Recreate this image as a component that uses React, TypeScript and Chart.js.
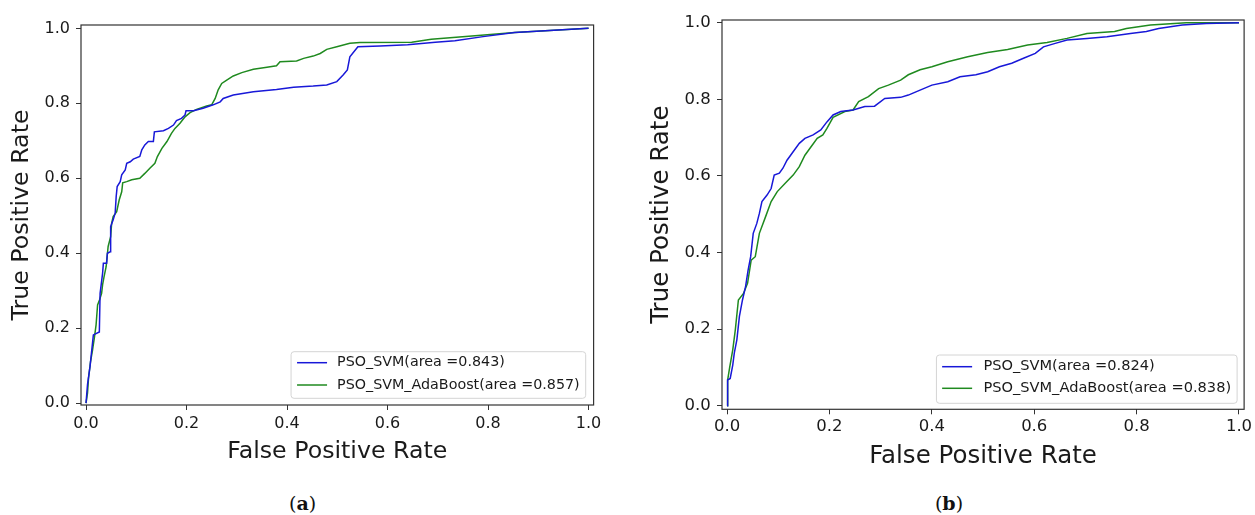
import React, { useEffect, useRef } from "react";
import { Chart, registerables } from "chart.js";

Chart.register(...registerables);

// ---------- data ----------
const TICKS = [0, 0.2, 0.4, 0.6, 0.8, 1.0];
const X_TITLE = "False Positive Rate";
const Y_TITLE = "True Positive Rate";
const SERIES_NAMES = ["PSO_SVM", "PSO_SVM_AdaBoost"];
const AUC_A = [0.843, 0.857];
const AUC_B = [0.824, 0.838];
const CAPTIONS = ["a", "b"];

// panel (a)
const A_SVM_FPR = [0, 0.003, 0.008, 0.0146, 0.0265, 0.028, 0.033, 0.0345, 0.041, 0.0425, 0.048, 0.049, 0.054, 0.058, 0.06, 0.062, 0.068, 0.071, 0.078, 0.081, 0.088, 0.094, 0.107, 0.111, 0.117, 0.124, 0.134, 0.136, 0.154, 0.164, 0.174, 0.18, 0.19, 0.197, 0.199, 0.214, 0.233, 0.253, 0.267, 0.273, 0.293, 0.333, 0.379, 0.413, 0.452, 0.479, 0.499, 0.512, 0.52, 0.525, 0.541, 0.585, 0.64, 0.695, 0.734, 0.79, 0.853, 0.931, 1.0];
const A_SVM_TPR = [0, 0.05, 0.098, 0.182, 0.19, 0.293, 0.347, 0.373, 0.373, 0.4, 0.404, 0.471, 0.489, 0.507, 0.551, 0.578, 0.591, 0.609, 0.622, 0.64, 0.644, 0.651, 0.658, 0.676, 0.689, 0.698, 0.698, 0.724, 0.727, 0.733, 0.742, 0.754, 0.76, 0.769, 0.78, 0.78, 0.787, 0.796, 0.804, 0.813, 0.822, 0.831, 0.837, 0.843, 0.846, 0.849, 0.858, 0.876, 0.889, 0.924, 0.951, 0.953, 0.956, 0.963, 0.967, 0.978, 0.989, 0.995, 1.0];
const A_ADA_FPR = [0, 0.003, 0.005, 0.009, 0.013, 0.017, 0.02, 0.023, 0.027, 0.031, 0.033, 0.036, 0.04, 0.044, 0.049, 0.051, 0.054, 0.061, 0.066, 0.071, 0.073, 0.081, 0.091, 0.107, 0.117, 0.127, 0.137, 0.142, 0.151, 0.161, 0.17, 0.177, 0.187, 0.197, 0.207, 0.22, 0.24, 0.25, 0.257, 0.263, 0.27, 0.28, 0.293, 0.31, 0.333, 0.36, 0.379, 0.386, 0.419, 0.433, 0.452, 0.466, 0.479, 0.499, 0.525, 0.545, 0.648, 0.687, 0.774, 0.853, 0.931, 1.0];
const A_ADA_TPR = [0, 0.027, 0.067, 0.111, 0.142, 0.178, 0.209, 0.262, 0.276, 0.293, 0.316, 0.338, 0.364, 0.418, 0.444, 0.48, 0.498, 0.511, 0.542, 0.564, 0.588, 0.591, 0.596, 0.6, 0.613, 0.627, 0.64, 0.658, 0.68, 0.698, 0.72, 0.733, 0.747, 0.764, 0.775, 0.784, 0.793, 0.796, 0.813, 0.836, 0.853, 0.862, 0.873, 0.882, 0.891, 0.896, 0.9, 0.911, 0.913, 0.92, 0.926, 0.933, 0.944, 0.951, 0.96, 0.962, 0.963, 0.971, 0.98, 0.989, 0.995, 1.0];

// panel (b)
const B_SVM_FPR = [0, 0.001, 0.006, 0.011, 0.014, 0.019, 0.024, 0.03, 0.036, 0.041, 0.046, 0.051, 0.058, 0.063, 0.068, 0.078, 0.086, 0.092, 0.102, 0.109, 0.117, 0.129, 0.141, 0.152, 0.168, 0.183, 0.195, 0.207, 0.222, 0.246, 0.269, 0.288, 0.308, 0.339, 0.354, 0.37, 0.4, 0.431, 0.455, 0.486, 0.509, 0.532, 0.556, 0.579, 0.602, 0.618, 0.641, 0.664, 0.703, 0.742, 0.788, 0.819, 0.843, 0.889, 0.936, 1.0];
const B_SVM_TPR = [0, 0.067, 0.071, 0.106, 0.137, 0.172, 0.233, 0.276, 0.311, 0.354, 0.389, 0.45, 0.476, 0.502, 0.533, 0.55, 0.567, 0.602, 0.607, 0.62, 0.641, 0.663, 0.685, 0.698, 0.707, 0.72, 0.741, 0.759, 0.768, 0.772, 0.781, 0.782, 0.802, 0.805, 0.811, 0.82, 0.837, 0.846, 0.859, 0.864, 0.872, 0.885, 0.894, 0.907, 0.92, 0.937, 0.946, 0.955, 0.959, 0.963, 0.972, 0.977, 0.985, 0.994, 0.998, 1.0];
const B_ADA_FPR = [0, 0.001, 0.005, 0.011, 0.016, 0.022, 0.032, 0.04, 0.047, 0.055, 0.063, 0.075, 0.086, 0.098, 0.113, 0.129, 0.141, 0.152, 0.164, 0.176, 0.187, 0.195, 0.207, 0.23, 0.246, 0.257, 0.276, 0.296, 0.315, 0.339, 0.354, 0.377, 0.4, 0.431, 0.47, 0.509, 0.548, 0.587, 0.625, 0.664, 0.703, 0.757, 0.78, 0.827, 0.897, 1.0];
const B_ADA_TPR = [0, 0.067, 0.1, 0.146, 0.198, 0.276, 0.293, 0.32, 0.38, 0.389, 0.45, 0.493, 0.533, 0.559, 0.58, 0.602, 0.624, 0.654, 0.676, 0.698, 0.707, 0.724, 0.753, 0.768, 0.772, 0.794, 0.807, 0.828, 0.837, 0.85, 0.864, 0.877, 0.885, 0.898, 0.911, 0.922, 0.93, 0.942, 0.948, 0.959, 0.972, 0.977, 0.985, 0.994, 1.0, 1.0];

// ---------- styling ----------
const BLUE = "#1818d8";
const GREEN = "#1f8a1f";
const FONT = '"DejaVu Sans", sans-serif';
const TEXT = "#1a1a1a";
const AXIS = "#333333";

const zip = (xs: number[], ys: number[]) => xs.map((x, i) => ({ x, y: ys[i] }));

const framePlugin = {
  id: "frame",
  afterDraw(chart: any) {
    const { ctx, chartArea: ca } = chart;
    ctx.save();
    ctx.strokeStyle = AXIS;
    ctx.lineWidth = 1.2;
    ctx.strokeRect(ca.left, ca.top, ca.right - ca.left, ca.bottom - ca.top);
    ctx.restore();
  },
};

const legendPlugin = {
  id: "rocLegend",
  afterDraw(chart: any, _args: any, o: any) {
    const { ctx, chartArea: ca } = chart;
    ctx.save();
    ctx.font = `${o.fontSize}px ${FONT}`;
    const ds = chart.data.datasets;
    const tw = Math.max(...ds.map((d: any) => ctx.measureText(d.label).width));
    const w = o.padL + o.lineLen + o.gap + tw + o.padR;
    const h = o.height;
    const x0 = ca.right - o.marginR - w;
    const y0 = ca.bottom - o.marginB - h;
    ctx.beginPath();
    (ctx as any).roundRect(x0, y0, w, h, 3);
    ctx.fillStyle = "rgba(255,255,255,0.9)";
    ctx.fill();
    ctx.strokeStyle = "#d4d4d4";
    ctx.lineWidth = 1;
    ctx.stroke();
    ds.forEach((d: any, i: number) => {
      const cy = y0 + o.rows[i];
      ctx.beginPath();
      ctx.moveTo(x0 + o.padL, cy);
      ctx.lineTo(x0 + o.padL + o.lineLen, cy);
      ctx.strokeStyle = d.borderColor;
      ctx.lineWidth = 1.5;
      ctx.stroke();
      ctx.fillStyle = TEXT;
      ctx.textBaseline = "middle";
      ctx.textAlign = "left";
      ctx.fillText(d.label, x0 + o.padL + o.lineLen + o.gap, cy);
    });
    ctx.restore();
  },
};

type Panel = {
  svm: { x: number[]; y: number[] };
  ada: { x: number[]; y: number[] };
  auc: number[];
  width: number;
  height: number;
  padTop: number;
  padRight: number;
  yAxisW: number;
  xAxisH: number;
  yMin: number;
  yMax: number;
  tickFont: number;
  titleFont: number;
  xTickPad: number;
  yTickPad: number;
  xTitlePad: number;
  yTitlePad: number;
  legend: any;
};

const PANEL_A: Panel = {
  svm: { x: A_SVM_FPR, y: A_SVM_TPR },
  ada: { x: A_ADA_FPR, y: A_ADA_TPR },
  auc: AUC_A,
  width: 620,
  height: 480,
  padTop: 25,
  padRight: 26.4,
  yAxisW: 81,
  xAxisH: 75,
  yMin: -0.005,
  yMax: 1.009,
  tickFont: 16,
  titleFont: 23.7,
  xTickPad: 4.6,
  yTickPad: 6,
  xTitlePad: 14.3,
  yTitlePad: 7.8,
  legend: { fontSize: 14.3, padL: 6, lineLen: 30, gap: 10, padR: 6, height: 46.6, marginR: 7.9, marginB: 6.7, rows: [11, 33.3] },
};

const PANEL_B: Panel = {
  svm: { x: B_SVM_FPR, y: B_SVM_TPR },
  ada: { x: B_ADA_FPR, y: B_ADA_TPR },
  auc: AUC_B,
  width: 625,
  height: 480,
  padTop: 20,
  padRight: 8.3,
  yAxisW: 92,
  xAxisH: 70.7,
  yMin: -0.0094,
  yMax: 1.007,
  tickFont: 16.5,
  titleFont: 24.5,
  xTickPad: 2.8,
  yTickPad: 6.3,
  xTitlePad: 8.8,
  yTitlePad: 17.3,
  legend: { fontSize: 14.6, padL: 5.7, lineLen: 30, gap: 11.3, padR: 6, height: 48.3, marginR: 7, marginB: 6, rows: [11.7, 33.3] },
};

function RocChart({ p }: { p: Panel }) {
  const ref = useRef<HTMLCanvasElement | null>(null);
  useEffect(() => {
    if (!ref.current) return;
    const setTicks = (s: any) => {
      s.ticks = TICKS.map((v) => ({ value: v }));
    };
    const tickFmt = (v: any) => Number(v).toFixed(1);
    const grid = {
      display: true,
      drawOnChartArea: false,
      drawTicks: true,
      tickLength: 5,
      tickColor: AXIS,
      color: AXIS,
      lineWidth: 1,
    };
    const chart = new Chart(ref.current, {
      type: "line",
      data: {
        datasets: [
          {
            label: `${SERIES_NAMES[0]}(area =${p.auc[0].toFixed(3)})`,
            data: zip(p.svm.x, p.svm.y),
            borderColor: BLUE,
            backgroundColor: BLUE,
            borderWidth: 1.5,
            pointRadius: 0,
            tension: 0,
            fill: false,
          },
          {
            label: `${SERIES_NAMES[1]}(area =${p.auc[1].toFixed(3)})`,
            data: zip(p.ada.x, p.ada.y),
            borderColor: GREEN,
            backgroundColor: GREEN,
            borderWidth: 1.5,
            pointRadius: 0,
            tension: 0,
            fill: false,
          },
        ],
      },
      options: {
        responsive: false,
        animation: false,
        devicePixelRatio: 1,
        layout: { padding: { left: 0, top: p.padTop, right: p.padRight, bottom: 0 } },
        plugins: {
          legend: { display: false },
          tooltip: { enabled: false },
          rocLegend: p.legend,
        } as any,
        scales: {
          x: {
            type: "linear",
            min: -0.01,
            max: 1.01,
            afterBuildTicks: setTicks,
            afterFit: (s: any) => {
              s.height = p.xAxisH;
            },
            ticks: {
              callback: tickFmt,
              font: { family: FONT, size: p.tickFont },
              color: TEXT,
              padding: p.xTickPad,
              maxRotation: 0,
              autoSkip: false,
            },
            grid,
            border: { display: false },
            title: {
              display: true,
              text: X_TITLE,
              color: TEXT,
              font: { family: FONT, size: p.titleFont },
              padding: { top: 0, bottom: p.xTitlePad },
            },
          },
          y: {
            type: "linear",
            min: p.yMin,
            max: p.yMax,
            afterBuildTicks: setTicks,
            afterFit: (s: any) => {
              s.width = p.yAxisW;
            },
            ticks: {
              callback: tickFmt,
              font: { family: FONT, size: p.tickFont },
              color: TEXT,
              padding: p.yTickPad,
              autoSkip: false,
            },
            grid,
            border: { display: false },
            title: {
              display: true,
              text: Y_TITLE,
              color: TEXT,
              font: { family: FONT, size: p.titleFont },
              padding: { top: p.yTitlePad, bottom: 0 },
            },
          },
        },
      } as any,
      plugins: [framePlugin, legendPlugin],
    });
    return () => chart.destroy();
  }, [p]);
  return <canvas ref={ref} width={p.width} height={p.height} style={{ display: "block" }} />;
}

const captionStyle = (cx: number): React.CSSProperties => ({
  position: "absolute",
  left: cx - 50,
  width: 100,
  top: 492,
  textAlign: "center",
  fontFamily: '"DejaVu Serif", serif',
  fontSize: 19,
  lineHeight: "22px",
  color: "#111",
});

export default function App() {
  return (
    <div
      style={{
        position: "absolute",
        left: 0,
        top: 0,
        width: 1255,
        height: 515,
        background: "#fff",
        overflow: "hidden",
      }}
    >
      <div style={{ position: "absolute", left: 0, top: 0 }}>
        <RocChart p={PANEL_A} />
      </div>
      <div style={{ position: "absolute", left: 630, top: 0 }}>
        <RocChart p={PANEL_B} />
      </div>
      <div style={captionStyle(302.7)}>
        (<b>{CAPTIONS[0]}</b>)
      </div>
      <div style={captionStyle(949)}>
        (<b>{CAPTIONS[1]}</b>)
      </div>
    </div>
  );
}
